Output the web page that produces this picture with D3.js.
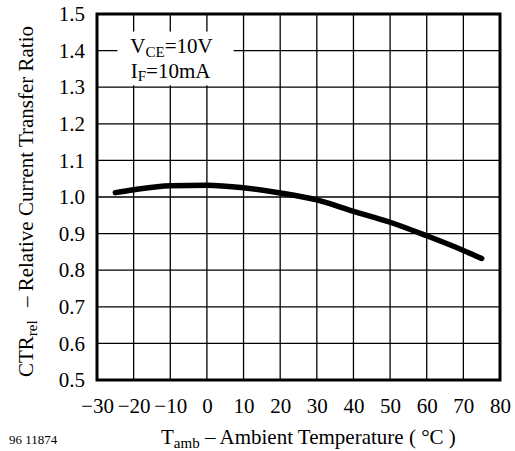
<!DOCTYPE html>
<html>
<head>
<meta charset="utf-8">
<script src="https://cdn.jsdelivr.net/npm/d3@7"></script>
<style>
  html, body { margin: 0; padding: 0; background: #fff; }
  svg { display: block; }
  text { font-family: "Liberation Serif", "Times New Roman", serif; fill: #000; }
</style>
</head>
<body>
<svg id="chart" width="515" height="451"></svg>
<script>
// Ambient temperature (°C) and relative CTR readings along the curve
const temperature = [-25, -20, -10, 0, 10, 20, 30, 40, 50, 60, 70, 75];
const ctrRel = [1.012, 1.020, 1.031, 1.032, 1.025, 1.011, 0.992, 0.961, 0.931, 0.894, 0.854, 0.832];

const xTicks = [-30, -20, -10, 0, 10, 20, 30, 40, 50, 60, 70, 80];
const yTicks = [0.5, 0.6, 0.7, 0.8, 0.9, 1.0, 1.1, 1.2, 1.3, 1.4, 1.5];

const svg = d3.select("#chart");
const plot = { left: 97, right: 500, top: 14, bottom: 380 };

const x = d3.scaleLinear().domain([-30, 80]).range([plot.left, plot.right]);
const y = d3.scaleLinear().domain([0.5, 1.5]).range([plot.bottom, plot.top]);

// grid
const grid = svg.append("g");
grid.selectAll("line.v").data(xTicks.slice(1, -1)).join("line")
  .attr("x1", d => x(d)).attr("x2", d => x(d))
  .attr("y1", plot.top).attr("y2", plot.bottom)
  .attr("stroke", "#000").attr("stroke-width", 1.3);
grid.selectAll("line.h").data(yTicks.slice(1, -1)).join("line")
  .attr("x1", plot.left).attr("x2", plot.right)
  .attr("y1", d => y(d)).attr("y2", d => y(d))
  .attr("stroke", "#000").attr("stroke-width", 1.3);

// condition label box (covers the grid behind it)
svg.append("rect")
  .attr("x", x(-24.4)).attr("y", y(1.452))
  .attr("width", x(7.3) - x(-24.4)).attr("height", y(1.305) - y(1.452))
  .attr("fill", "#fff");

const cond = svg.append("g").attr("font-size", 21);
const t1 = cond.append("text").attr("x", x(-20.9)).attr("y", y(1.4) + 2.5);
t1.append("tspan").text("V");
t1.append("tspan").attr("font-size", 15).attr("dy", 3.5).text("CE");
t1.append("tspan").attr("dy", -3.5).text("=10V");
const t2 = cond.append("text").attr("x", x(-20.8)).attr("y", y(1.4) + 27);
t2.append("tspan").text("I");
t2.append("tspan").attr("font-size", 15).attr("dy", 3.5).text("F");
t2.append("tspan").attr("dy", -3.5).text("=10mA");

// curve
const line = d3.line()
  .x((d, i) => x(temperature[i]))
  .y(d => y(d))
  .curve(d3.curveMonotoneX);
svg.append("path")
  .datum(ctrRel)
  .attr("d", line)
  .attr("fill", "none")
  .attr("stroke", "#000")
  .attr("stroke-width", 5.5)
  .attr("stroke-linecap", "round");

// frame
svg.append("rect")
  .attr("x", plot.left).attr("y", plot.top)
  .attr("width", plot.right - plot.left).attr("height", plot.bottom - plot.top)
  .attr("fill", "none").attr("stroke", "#000").attr("stroke-width", 3);

// axes
const fmtX = d => d < 0 ? "\u2212" + Math.abs(d) : String(d);
const xAxis = d3.axisBottom(x).tickValues(xTicks).tickFormat(fmtX).tickSize(0).tickPadding(18);
const gx = svg.append("g").attr("transform", `translate(0,${plot.bottom})`).call(xAxis);
gx.select(".domain").remove();
gx.selectAll("text").attr("font-size", 21);

const yAxis = d3.axisLeft(y).tickValues(yTicks).tickFormat(d3.format(".1f")).tickSize(0).tickPadding(12);
const gy = svg.append("g").attr("transform", `translate(${plot.left},0)`).call(yAxis);
gy.select(".domain").remove();
gy.selectAll("text").attr("font-size", 21);

// axis titles
const xt = svg.append("text").attr("x", 161).attr("y", 444).attr("font-size", 21);
xt.append("tspan").text("T");
xt.append("tspan").attr("font-size", 15).attr("dy", 4).text("amb");
xt.append("tspan").attr("dy", -4).text(" \u2013 Ambient Temperature ( \u00b0C )");

const yt = svg.append("text")
  .attr("transform", "translate(33,377) rotate(-90)")
  .attr("font-size", 21);
yt.append("tspan").text("CTR");
yt.append("tspan").attr("font-size", 15).attr("dy", 4).text("rel");
yt.append("tspan").attr("dy", -4).attr("dx", 8).text(" \u2013 Relative Current Transfer Ratio");

svg.append("text").attr("x", 9).attr("y", 444).attr("font-size", 13).text("96 11874");
</script>
</body>
</html>
